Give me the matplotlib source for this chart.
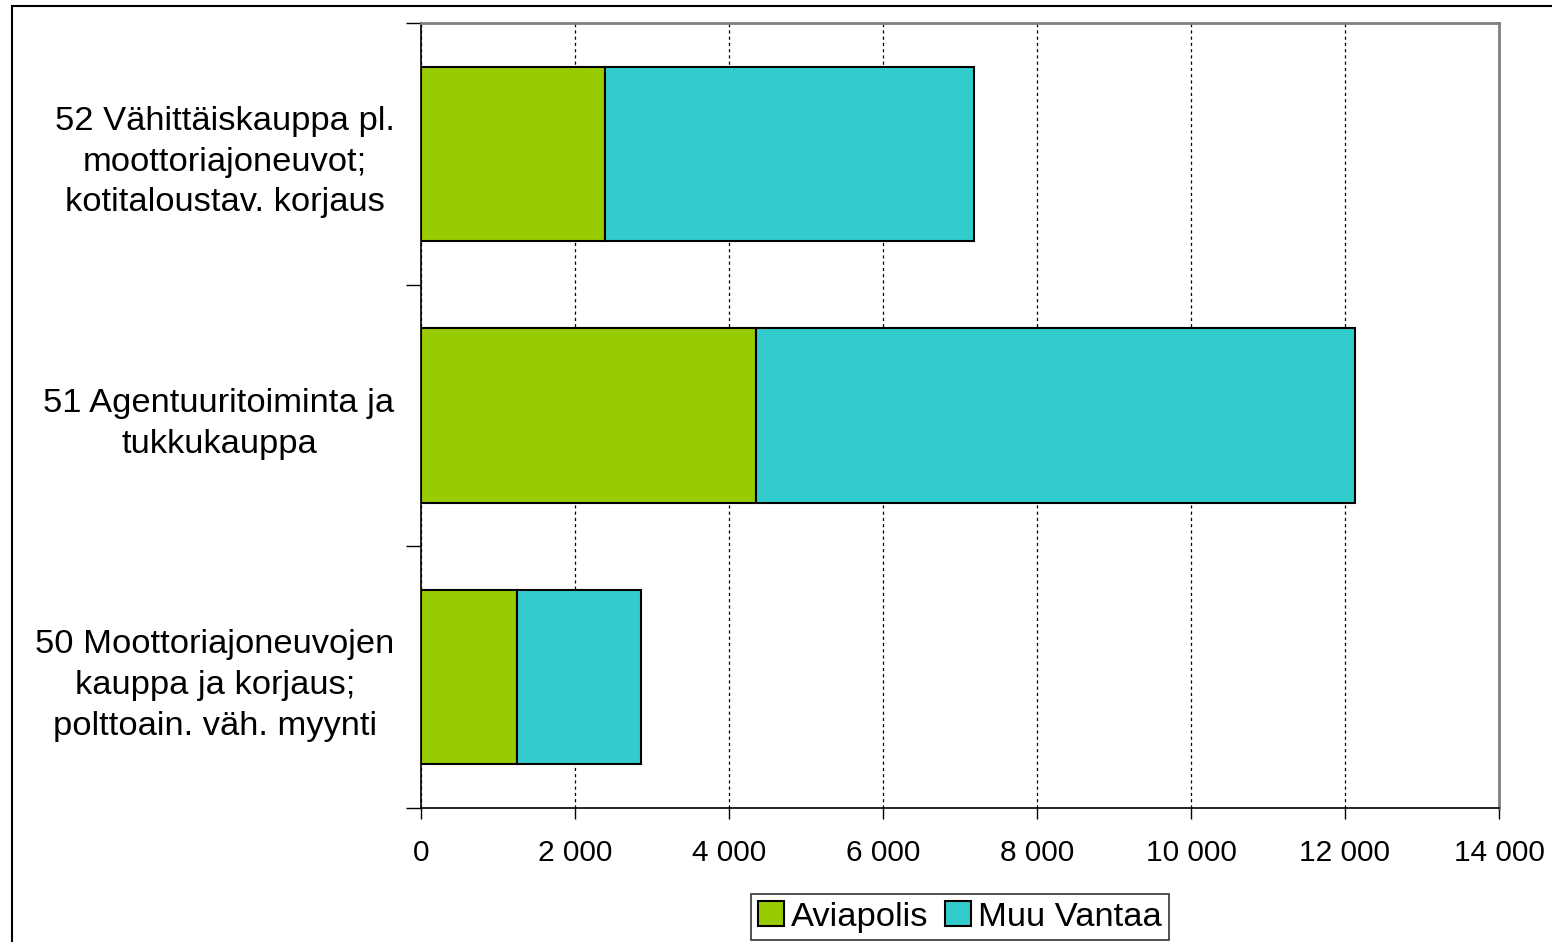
import numpy as np
import matplotlib.pyplot as plt
from matplotlib.patches import Rectangle
from matplotlib.ticker import FuncFormatter

plt.rcParams['font.family'] = ['Liberation Sans', 'DejaVu Sans']

# Data, bottom to top
categories = [
    "50 Moottoriajoneuvojen\nkauppa ja korjaus;\npolttoain. väh. myynti",
    "51 Agentuuritoiminta ja\ntukkukauppa",
    "52 Vähittäiskauppa pl.\nmoottoriajoneuvot;\nkotitaloustav. korjaus",
]
aviapolis = [1250, 4350, 2390]
muu_vantaa = [1610, 7780, 4790]
series_names = ["Aviapolis", "Muu Vantaa"]
colors = ["#99CC00", "#33CCCC"]

fig = plt.figure(figsize=(15.52, 9.42), dpi=100)
ax = fig.add_axes([421/1552, 1 - 808/942, (1499 - 421)/1552, (808 - 23)/942])

# Outer chart border (runs off the right and bottom edges)
fig.patches.append(Rectangle((12/1552, -0.1), 1.2, 1 - 6/942 + 0.1,
                             transform=fig.transFigure, fill=False,
                             edgecolor='black', lw=1.5, zorder=0))

y = np.arange(len(categories))
h = 0.665
ax.barh(y, aviapolis, height=h, color=colors[0], edgecolor='black',
        lw=1.5, label=series_names[0], zorder=3)
ax.barh(y, muu_vantaa, left=aviapolis, height=h, color=colors[1],
        edgecolor='black', lw=1.5, label=series_names[1], zorder=3)

ax.set_xlim(0, 14000)
ax.set_ylim(-0.5, len(categories) - 0.5)
ax.set_xticks(np.arange(0, 14001, 2000))
ax.xaxis.set_major_formatter(FuncFormatter(lambda v, p: f"{int(v):,}".replace(",", " ")))
ax.tick_params(axis='x', direction='out', length=8, width=1, pad=14,
               labelsize=21.5, colors='black')

ax.set_yticks(y)
ax.set_yticklabels(categories, multialignment='center', linespacing=1.4)
ax.set_yticks(np.arange(-0.5, len(categories)), minor=True)
ax.tick_params(axis='y', which='major', length=0, pad=19, labelsize=24.8)
ax.tick_params(axis='y', which='minor', direction='out', length=11, width=1)

ax.grid(axis='x', color='black', linestyle=(0, (2.5, 2.5)), lw=0.9, zorder=1)

for s in ['left', 'bottom']:
    ax.spines[s].set_color('black')
    ax.spines[s].set_linewidth(1.2)
for s in ['top', 'right']:
    ax.spines[s].set_color('#808080')
    ax.spines[s].set_linewidth(2)

leg = fig.legend(loc='center', bbox_to_anchor=(960/1552, 1 - 917/942),
                 ncol=2, fontsize=24.8, frameon=True, fancybox=False,
                 handlelength=0.75, handleheight=0.75, handletextpad=0.2,
                 columnspacing=0.5, borderpad=0.2, borderaxespad=0)
leg.get_frame().set_edgecolor('black')
leg.get_frame().set_linewidth(1.2)

fig.savefig('out.png', dpi=100)
